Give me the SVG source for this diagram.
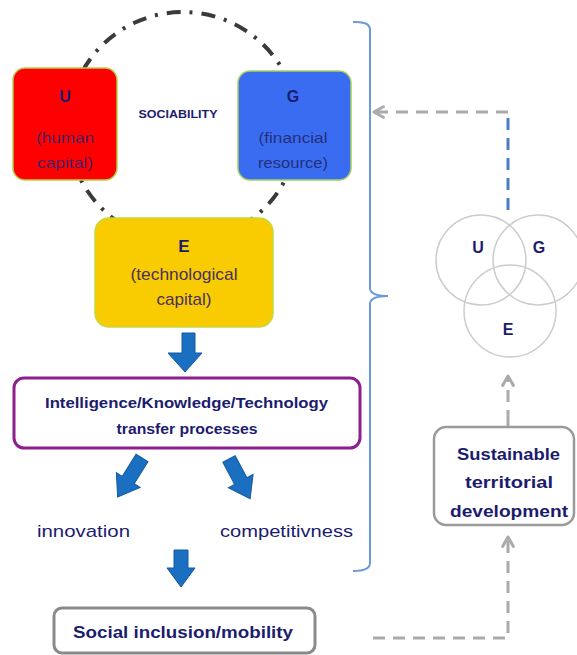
<svg xmlns="http://www.w3.org/2000/svg" width="577" height="655" viewBox="0 0 577 655">
<defs>
<style>
.t{font-family:"Liberation Sans",Arial,sans-serif;fill:#1c1c6e}
.b{font-weight:bold}
.blue{fill:#1a6fc0;stroke:#155a9e;stroke-width:1}
.dash{fill:none;stroke:#aaaaaa;stroke-width:3;stroke-dasharray:12 8}
.venn{fill:none;stroke:#cccccc;stroke-width:1.5}
</style>
<marker id="chev" viewBox="0 0 12 12" refX="10" refY="6" markerWidth="14" markerHeight="14" orient="auto" markerUnits="userSpaceOnUse">
<path d="M2,1.5 L10,6 L2,10.5" fill="none" stroke="#aaaaaa" stroke-width="2.6" stroke-linecap="round" stroke-linejoin="round"/>
</marker>
</defs>
<rect width="577" height="655" fill="#ffffff"/>

<g id="sociability-ring">
<circle cx="183" cy="127" r="115" fill="none" stroke="#3a3a3a" stroke-width="4" stroke-dasharray="14 9 3 9"/>
<text class="t b" x="178" y="118" font-size="10" text-anchor="middle" textLength="79" lengthAdjust="spacingAndGlyphs">SOCIABILITY</text>
</g>

<g id="connectors">
<!-- E down arrow -->
<path class="blue" d="M182,333 H195 V353 H202 L185,372 L168,353 H182 Z"/>
<!-- left diagonal arrow -->
<path class="blue" d="M0,-7 H26 V-14 L46,0 L26,14 V7 H0 Z" transform="translate(142,458) rotate(122)"/>
<!-- right diagonal arrow -->
<path class="blue" d="M0,-7 H25 V-14 L45,0 L25,14 V7 H0 Z" transform="translate(229,459) rotate(62)"/>
<!-- down arrow to social inclusion -->
<path class="blue" d="M174,550 H188 V568 H195 L181,587 L167,568 H174 Z"/>
<!-- brace -->
<path d="M353,22 Q370,21 370,30 V288 Q370,296 388,296 Q370,296 370,304 V563 Q370,571 353,571" fill="none" stroke="#6a9bd8" stroke-width="2"/>
<!-- venn to brace -->
<path d="M508,210 V112" fill="none" stroke="#4a7fc8" stroke-width="3" stroke-dasharray="12 8"/>
<path class="dash" d="M508,112 H374" marker-end="url(#chev)"/>
<!-- sustainable to venn -->
<path d="M508,427 V410" fill="none" stroke="#aaaaaa" stroke-width="3"/>
<path class="dash" d="M508,402 V376" marker-end="url(#chev)" stroke-dasharray="10 8"/>
<!-- social to sustainable -->
<path class="dash" d="M373,638 H508 V537" marker-end="url(#chev)"/>
</g>

<g id="node-U">
<rect x="13" y="68" width="104" height="112" rx="12" fill="#ff0000" stroke="#b5cf4a" stroke-width="1.5"/>
<text class="t b" x="65" y="102" font-size="16" text-anchor="middle">U</text>
<text class="t" x="65" y="143" font-size="15" text-anchor="middle" style="fill:#4a2060" textLength="58" lengthAdjust="spacingAndGlyphs">(human</text>
<text class="t" x="65" y="168" font-size="15" text-anchor="middle" style="fill:#4a2060" textLength="56" lengthAdjust="spacingAndGlyphs">capital)</text>
</g>

<g id="node-G">
<rect x="238" y="71" width="113" height="109" rx="12" fill="#3a6cf2" stroke="#a8cf5a" stroke-width="1.5"/>
<text class="t b" x="293" y="102" font-size="16" text-anchor="middle">G</text>
<text class="t" x="293" y="143" font-size="15" text-anchor="middle" style="fill:#25307a" textLength="69" lengthAdjust="spacingAndGlyphs">(financial</text>
<text class="t" x="293" y="168" font-size="15" text-anchor="middle" style="fill:#25307a" textLength="70" lengthAdjust="spacingAndGlyphs">resource)</text>
</g>

<g id="node-E">
<rect x="95" y="218" width="178" height="109" rx="14" fill="#f8cc00" stroke="#c8d83a" stroke-width="1.5"/>
<text class="t b" x="184" y="252" font-size="17" text-anchor="middle">E</text>
<text class="t" x="184" y="280" font-size="17" text-anchor="middle" style="fill:#4a3060" textLength="107" lengthAdjust="spacingAndGlyphs">(technological</text>
<text class="t" x="184" y="305" font-size="17" text-anchor="middle" style="fill:#4a3060" textLength="55" lengthAdjust="spacingAndGlyphs">capital)</text>
</g>

<g id="node-transfer">
<rect x="14" y="378" width="346" height="70" rx="10" fill="#ffffff" stroke="#8e1f8e" stroke-width="3"/>
<text class="t b" x="186.5" y="408" font-size="15" text-anchor="middle" textLength="283" lengthAdjust="spacingAndGlyphs">Intelligence/Knowledge/Technology</text>
<text class="t b" x="187" y="434" font-size="15" text-anchor="middle" textLength="141" lengthAdjust="spacingAndGlyphs">transfer processes</text>
</g>

<g id="node-innovation">
<text class="t" x="83.5" y="537" font-size="17" text-anchor="middle" textLength="93" lengthAdjust="spacingAndGlyphs">innovation</text>
</g>

<g id="node-competitivness">
<text class="t" x="286.5" y="537" font-size="17" text-anchor="middle" textLength="133" lengthAdjust="spacingAndGlyphs">competitivness</text>
</g>

<g id="node-social">
<rect x="54" y="608" width="261" height="45" rx="8" fill="#ffffff" stroke="#8a8a8a" stroke-width="3"/>
<text class="t b" x="183" y="638" font-size="16" text-anchor="middle" textLength="220" lengthAdjust="spacingAndGlyphs">Social inclusion/mobility</text>
</g>

<g id="node-venn">
<circle class="venn" cx="481" cy="260" r="45"/>
<circle class="venn" cx="538" cy="260" r="45"/>
<circle class="venn" cx="510" cy="311" r="46"/>
<text class="t b" x="478" y="253" font-size="16" text-anchor="middle">U</text>
<text class="t b" x="539" y="253" font-size="16" text-anchor="middle">G</text>
<text class="t b" x="508" y="335" font-size="16" text-anchor="middle">E</text>
</g>

<g id="node-sustainable">
<rect x="434" y="427" width="140" height="98" rx="12" fill="#ffffff" stroke="#9a9a9a" stroke-width="2.5"/>
<text class="t b" x="508.5" y="460" font-size="16" text-anchor="middle" textLength="103" lengthAdjust="spacingAndGlyphs">Sustainable</text>
<text class="t b" x="509" y="488" font-size="16" text-anchor="middle" textLength="88" lengthAdjust="spacingAndGlyphs">territorial</text>
<text class="t b" x="509" y="517" font-size="16" text-anchor="middle" textLength="118" lengthAdjust="spacingAndGlyphs">development</text>
</g>
</svg>
